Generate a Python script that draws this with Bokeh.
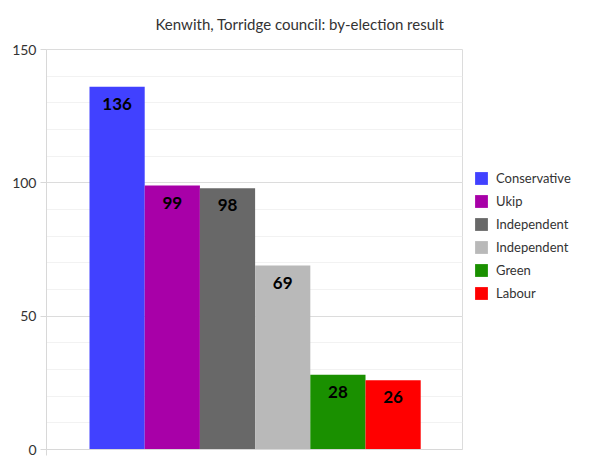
from bokeh.plotting import figure
from bokeh.models import (ColumnDataSource, Range1d, SingleIntervalTicker, FixedTicker,
                          LabelSet, Legend, LegendItem)
from bokeh.core.properties import value
from bokeh.embed import file_html
from bokeh.resources import INLINE

parties = ["Conservative", "Ukip", "Independent", "Independent", "Green", "Labour"]
votes = [136, 99, 98, 69, 28, 26]
colors = ["#4141FF", "#A800A8", "#686868", "#B9B9B9", "#1A9000", "#FF0000"]
y_ticks = [0, 50, 100, 150]

FONT = "Lato"
x_start = -1.279
x_end = 6.257

src = ColumnDataSource(dict(x=list(range(len(parties))), top=votes, color=colors,
                            party=parties, label=[str(v) for v in votes]))

p = figure(frame_width=416, frame_height=400, output_backend="svg", toolbar_location=None,
           x_range=Range1d(x_start, x_end), y_range=Range1d(0, 150),
           min_border_left=46, min_border_top=49, min_border_right=130, min_border_bottom=10)

p.title.text = "Kenwith, Torridge council: by-election result"
p.title.align = "left"
p.title.offset = 109
p.title.text_font = FONT
p.title.text_font_size = "15px"
p.title.text_font_style = "normal"
p.title.text_color = "#333333"
p.title.vertical_align = "top"
p.title.standoff = 29

r = p.vbar(x="x", top="top", width=1.0, color="color", line_color=None, source=src)

labels = LabelSet(x="x", y="top", text="label", source=src, text_align="center",
                  text_baseline="top", y_offset=-11, text_font=value(FONT),
                  text_font_size=value("17px"), text_font_style="bold", text_color="#000000")
p.add_layout(labels)

# axes
p.yaxis.ticker = SingleIntervalTicker(interval=50, num_minor_ticks=5)
p.yaxis.axis_line_color = "#d8d8d8"
p.yaxis.major_tick_line_color = "#d8d8d8"
p.yaxis.major_tick_out = 6
p.yaxis.major_tick_in = 0
p.yaxis.minor_tick_line_color = None
p.yaxis.major_label_text_font = FONT
p.yaxis.major_label_text_font_size = "14px"
p.yaxis.major_label_text_color = "#333333"
p.yaxis.major_label_standoff = 4

p.xaxis.ticker = FixedTicker(ticks=[x_start])
p.xaxis.major_label_text_color = None
p.xaxis.axis_line_color = "#d8d8d8"
p.xaxis.major_tick_line_color = "#d8d8d8"
p.xaxis.major_tick_out = 6
p.xaxis.major_tick_in = 0
p.xaxis.minor_tick_line_color = None

p.xgrid.grid_line_color = None
p.ygrid.grid_line_color = "#dcdcdc"
p.ygrid.minor_grid_line_color = "#f2f2f2"
p.outline_line_color = "#dcdcdc"
p.background_fill_color = "white"
p.border_fill_color = "white"

items = [LegendItem(label=parties[i], renderers=[r], index=i) for i in range(len(parties))]
legend = Legend(items=items, location=(11, 148), orientation="vertical",
                glyph_width=16, glyph_height=16, label_height=16, spacing=7,
                label_standoff=7, padding=0, margin=0,
                border_line_color=None, background_fill_alpha=0,
                label_text_font=FONT, label_text_font_size="13px", label_text_color="#333333")
p.add_layout(legend, "right")

open("out.html", "w").write(file_html(p, INLINE))
